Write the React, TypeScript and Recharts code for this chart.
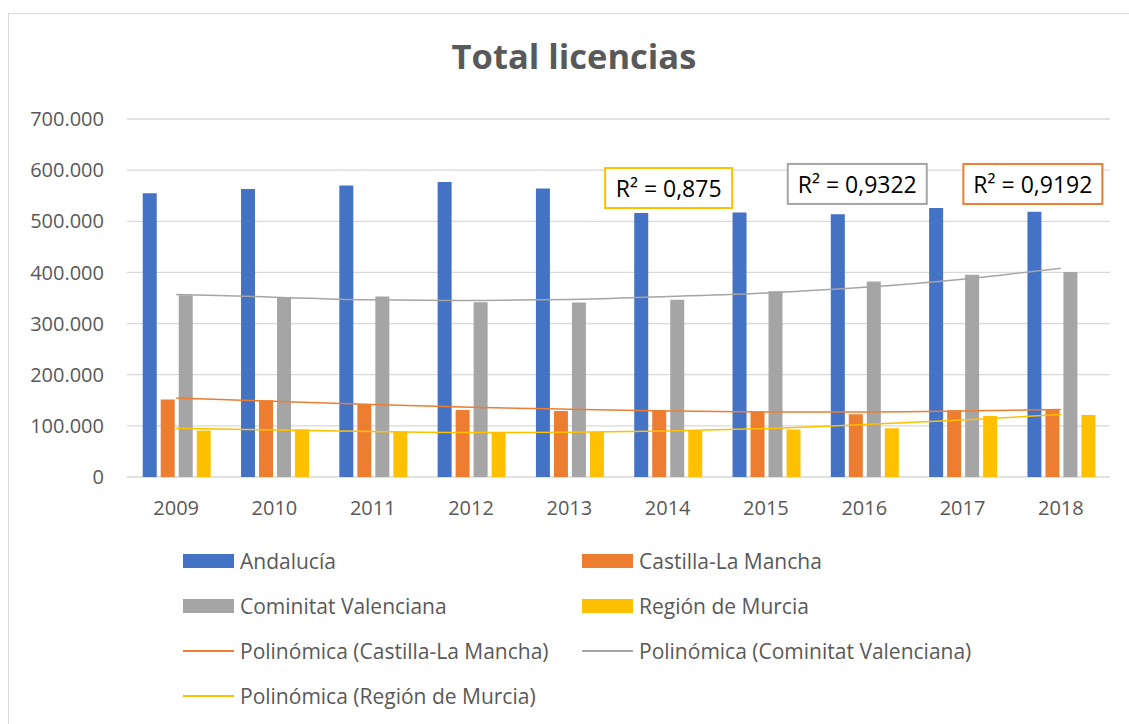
import {
  ComposedChart,
  Bar,
  Line,
  XAxis,
  YAxis,
  CartesianGrid,
  Legend,
  ReferenceDot,
} from 'recharts';

const years = ['2009', '2010', '2011', '2012', '2013', '2014', '2015', '2016', '2017', '2018'];

const andalucia = [554600, 563000, 570000, 576700, 564000, 516000, 517000, 514000, 526000, 518600];
const castilla = [151400, 150000, 142000, 131000, 129000, 130500, 128000, 122700, 130500, 131800];
const valenciana = [355600, 351700, 353000, 341900, 341300, 346400, 363400, 382400, 395400, 400600];
const murcia = [90800, 93300, 89400, 87500, 88000, 90000, 92800, 95300, 119400, 121300];

// líneas de tendencia (polinómica)
const trendCastilla = [154700, 148000, 141600, 136400, 132500, 129200, 127300, 127300, 129200, 131800];
const trendValenciana = [356900, 351700, 346400, 345200, 347000, 353000, 360000, 371000, 386800, 408400];
const trendMurcia = [95300, 92000, 88800, 86900, 87500, 90000, 94700, 102500, 111500, 122000];

const yTicks = [0, 100000, 200000, 300000, 400000, 500000, 600000, 700000];

const r2Labels = [
  { text: 'R² = 0,875', color: '#FFC000', year: '2014', value: 565000, dx: 1, w: 127 },
  { text: 'R² = 0,9322', color: '#A5A5A5', year: '2016', value: 573000, dx: -7, w: 139 },
  { text: 'R² = 0,9192', color: '#ED7D31', year: '2018', value: 573000, dx: -28, w: 139 },
];

const COLORS = {
  andalucia: '#4472C4',
  castilla: '#ED7D31',
  valenciana: '#A5A5A5',
  murcia: '#FFC000',
};

const FONT = '"Open Sans", sans-serif';
const TEXT = '#595959';

const legendItems = [
  { label: 'Andalucía', color: COLORS.andalucia, kind: 'bar' },
  { label: 'Castilla-La Mancha', color: COLORS.castilla, kind: 'bar' },
  { label: 'Cominitat Valenciana', color: COLORS.valenciana, kind: 'bar' },
  { label: 'Región de Murcia', color: COLORS.murcia, kind: 'bar' },
  { label: 'Polinómica (Castilla-La Mancha)', color: COLORS.castilla, kind: 'line' },
  { label: 'Polinómica (Cominitat Valenciana)', color: COLORS.valenciana, kind: 'line' },
  { label: 'Polinómica (Región de Murcia)', color: COLORS.murcia, kind: 'line' },
];

const data = years.map((year, i) => ({
  year,
  andalucia: andalucia[i],
  castilla: castilla[i],
  valenciana: valenciana[i],
  murcia: murcia[i],
  tCastilla: trendCastilla[i],
  tValenciana: trendValenciana[i],
  tMurcia: trendMurcia[i],
}));

const formatThousands = (n: number) => String(n).replace(/\B(?=(\d{3})+(?!\d))/g, '.');

const CustomLegend = () => (
  <div
    style={{
      height: 190,
      paddingTop: 19,
      paddingLeft: 174,
      boxSizing: 'border-box',
      display: 'grid',
      gridTemplateColumns: '399px 440px',
      gridAutoRows: '45px',
      fontFamily: FONT,
      fontSize: 21,
      color: TEXT,
    }}
  >
    {legendItems.map((item) => (
      <div key={item.label} style={{ display: 'flex', alignItems: 'center', height: 45 }}>
        <div style={{ width: 51, height: 45, display: 'flex', alignItems: 'center' }}>
          <div
            style={{
              width: 51,
              height: item.kind === 'bar' ? 14 : 2,
              background: item.color,
            }}
          />
        </div>
        <span style={{ marginLeft: 6, whiteSpace: 'nowrap' }}>{item.label}</span>
      </div>
    ))}
  </div>
);

const R2Box = (props: any) => {
  const { viewBox, text, color, dx, w } = props;
  if (!viewBox) return null;
  const cx = viewBox.x + (viewBox.width || 0) / 2 + dx;
  const cy = viewBox.y + (viewBox.height || 0) / 2;
  const h = 40;
  return (
    <g>
      <rect x={cx - w / 2} y={cy - h / 2} width={w} height={h} fill="#fff" stroke={color} strokeWidth={2} />
      <text
        x={cx}
        y={cy}
        textAnchor="middle"
        dominantBaseline="central"
        fontFamily={FONT}
        fontSize={23}
        fill="#000"
      >
        {text}
      </text>
    </g>
  );
};

const App = () => {
  return (
    <div
      style={{
        position: 'fixed',
        left: 8,
        top: 13,
        width: 1150,
        height: 740,
        borderTop: '1px solid #d9d9d9',
        borderLeft: '1px solid #d9d9d9',
        background: '#fff',
      }}
    >
      <div
        style={{
          position: 'absolute',
          top: 25,
          left: 0,
          width: 1113,
          paddingLeft: 17,
          boxSizing: 'border-box',
          textAlign: 'center',
          fontFamily: FONT,
          fontWeight: 700,
          fontSize: 34.5,
          lineHeight: 1,
          color: TEXT,
          zIndex: 1,
        }}
      >
        Total licencias
      </div>
      <ComposedChart
        width={1113}
        height={695}
        data={data}
        margin={{ top: 105, right: 12, bottom: 0, left: 0 }}
        barCategoryGap="16%"
        barGap={4}
      >
        <CartesianGrid vertical={false} stroke="#d9d9d9" strokeWidth={1.3} />
        <XAxis
          dataKey="year"
          axisLine={false}
          tickLine={false}
          tickSize={0}
          tickMargin={24}
          height={42}
          tick={{ fill: TEXT, fontFamily: FONT, fontSize: 20 }}
          interval={0}
        />
        <YAxis
          domain={[0, 700000]}
          ticks={yTicks}
          width={118}
          axisLine={false}
          tickLine={false}
          tickSize={0}
          tickMargin={23}
          tickFormatter={formatThousands}
          tick={{ fill: TEXT, fontFamily: FONT, fontSize: 20 }}
        />
        <Legend
          verticalAlign="bottom"
          content={CustomLegend}
          wrapperStyle={{ left: 0, width: 1113 }}
        />
        <Bar dataKey="andalucia" name="Andalucía" fill={COLORS.andalucia} isAnimationActive={false} />
        <Bar dataKey="castilla" name="Castilla-La Mancha" fill={COLORS.castilla} isAnimationActive={false} />
        <Bar dataKey="valenciana" name="Cominitat Valenciana" fill={COLORS.valenciana} isAnimationActive={false} />
        <Bar dataKey="murcia" name="Región de Murcia" fill={COLORS.murcia} isAnimationActive={false} />
        <Line
          type="monotone"
          dataKey="tCastilla"
          stroke={COLORS.castilla}
          strokeWidth={1.5}
          dot={false}
          activeDot={false}
          isAnimationActive={false}
        />
        <Line
          type="monotone"
          dataKey="tValenciana"
          stroke={COLORS.valenciana}
          strokeWidth={1.5}
          dot={false}
          activeDot={false}
          isAnimationActive={false}
        />
        <Line
          type="monotone"
          dataKey="tMurcia"
          stroke={COLORS.murcia}
          strokeWidth={1.5}
          dot={false}
          activeDot={false}
          isAnimationActive={false}
        />
        {r2Labels.map((l) => (
          <ReferenceDot
            key={l.text}
            x={l.year}
            y={l.value}
            r={0}
            fill="none"
            stroke="none"
            label={<R2Box text={l.text} color={l.color} dx={l.dx} w={l.w} />}
          />
        ))}
      </ComposedChart>
    </div>
  );
};

export default App;
